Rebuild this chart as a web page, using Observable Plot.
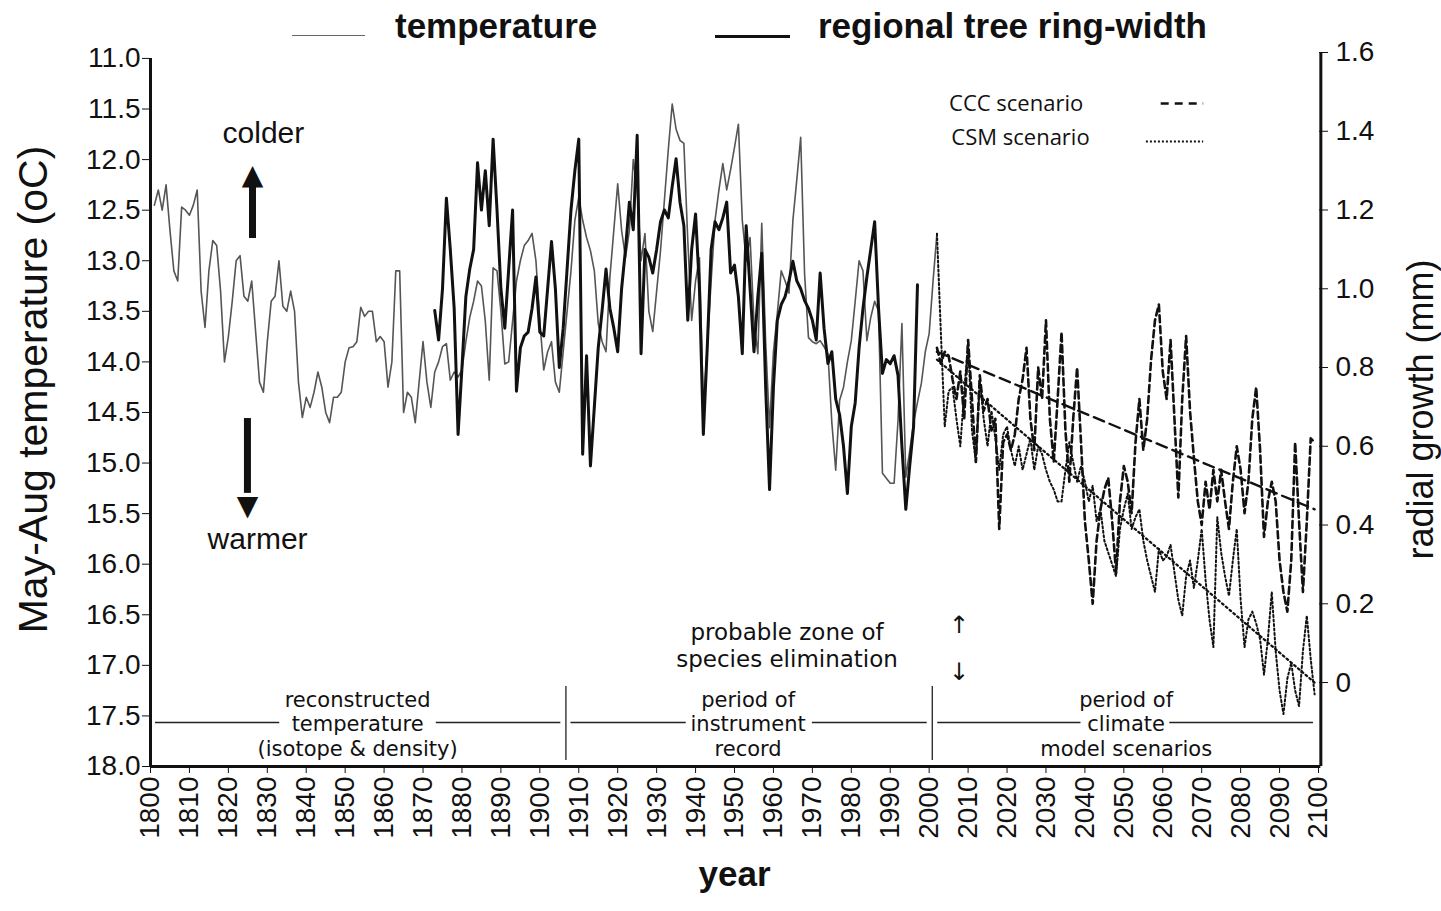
<!DOCTYPE html>
<html><head><meta charset="utf-8">
<script src="https://cdn.jsdelivr.net/npm/d3@7"></script>
<script src="https://cdn.jsdelivr.net/npm/@observablehq/plot@0.6"></script>
<style>
body{margin:0;background:#fff;font-family:"Liberation Sans",Arial,sans-serif;}
#legend{position:relative;height:40px;width:1441px;}
#legend .ln{position:absolute;}
#legend .tx{position:absolute;top:8px;font-weight:bold;font-size:35px;line-height:35px;color:#111;white-space:nowrap;}
#chart svg{display:block;}
</style></head><body>
<div id="legend">
 <div class="ln" style="left:292px;top:35px;width:73px;border-top:1.5px solid #666"></div>
 <div class="tx" style="left:395px">temperature</div>
 <div class="ln" style="left:715px;top:35px;width:75px;border-top:3px solid #111"></div>
 <div class="tx" style="left:818px">regional tree ring-width</div>
</div>
<div id="chart"></div>
<script>
// ---------- DATA ----------
// May-Aug temperature (oC), one value per year starting 1801
const tempStart = 1801;
const temperature = [
 12.45,12.3,12.5,12.25,12.7,13.1,13.2,12.47,12.5,12.55,
 12.45,12.3,13.3,13.66,13.1,12.8,12.85,13.3,14.0,13.75,
 13.4,13.0,12.95,13.35,13.4,13.2,13.7,14.2,14.3,13.8,
 13.4,13.35,13.0,13.45,13.5,13.3,13.5,14.2,14.55,14.35,
 14.45,14.3,14.1,14.25,14.5,14.6,14.35,14.35,14.3,14.0,
 13.86,13.85,13.8,13.46,13.55,13.5,13.5,13.8,13.75,13.8,
 14.25,14.0,13.1,13.1,14.5,14.3,14.35,14.6,14.2,13.8,
 14.2,14.45,14.1,14.0,13.85,13.82,14.18,14.1,14.15,14.08,
 13.8,13.56,13.4,13.2,13.25,13.6,14.18,13.07,13.1,13.5,
 14.02,14.0,13.6,13.2,13.0,12.85,12.8,12.73,13.0,13.6,
 14.08,13.9,13.8,14.2,14.3,13.9,13.5,13.1,12.6,12.37,
 12.6,12.77,12.9,13.1,13.62,13.8,13.9,13.16,12.7,12.24,
 12.7,12.97,12.7,12.0,12.3,13.0,12.73,13.5,13.7,13.3,
 12.9,12.4,11.9,11.45,11.7,11.81,11.84,12.8,13.59,13.2,
 12.97,14.45,13.86,13.2,12.6,12.3,12.04,12.3,12.1,11.88,
 11.65,12.6,13.0,12.77,13.6,13.92,12.63,13.8,14.65,13.9,
 13.52,13.1,13.2,13.32,12.6,12.2,11.78,13.13,13.76,13.8,
 13.82,13.79,13.85,13.92,14.6,15.07,14.38,14.25,14.0,13.79,
 13.4,13.0,13.1,13.79,13.56,13.4,13.5,15.1,15.15,15.2,
 15.2,14.58,13.62,15.14,14.88,14.6,14.4,14.21,13.9,13.72,
 13.2,12.73
];
// regional tree ring-width (mm), one value per year starting 1873
const ringStart = 1873;
const ringWidth = [
 0.945,0.87,1.0,1.23,1.1,0.95,0.63,0.8,
 0.98,1.05,1.1,1.32,1.2,1.3,1.16,1.38,1.2,1.0,
 0.9,1.05,1.2,0.74,0.85,0.88,0.89,0.95,1.03,0.89,
 0.88,1.0,1.12,1.0,0.8,0.9,1.05,1.2,1.3,1.38,
 0.58,0.83,0.55,0.7,0.85,0.945,1.05,0.95,0.9,0.84,
 1.0,1.1,1.22,1.15,1.39,0.835,1.1,1.08,1.04,1.1,
 1.17,1.2,1.18,1.26,1.33,1.22,1.16,0.92,1.1,1.19,
 1.0,0.63,0.85,1.1,1.17,1.15,1.18,1.22,1.04,1.06,
 0.98,0.835,1.16,1.0,0.84,0.98,1.09,0.75,0.49,0.75,
 0.92,0.96,0.98,1.02,1.07,1.02,1.0,0.97,0.95,0.92,
 0.87,1.04,0.9,0.81,0.84,0.72,0.68,0.6,0.48,0.65,
 0.71,0.85,0.95,1.03,1.1,1.17,0.95,0.785,0.82,0.81,
 0.83,0.78,0.6,0.44,0.55,0.65,1.01
];
// scenario radial growth (mm), one value per year starting 2002
const scenStart = 2002;
const cccScenario = [
 0.85,0.81,0.84,0.83,0.77,0.72,0.79,0.67,0.87,
 0.72,0.56,0.78,0.69,0.72,0.64,0.67,0.39,0.61,0.63,
 0.59,0.63,0.72,0.77,0.85,0.67,0.59,0.80,0.72,0.92,
 0.67,0.56,0.72,0.89,0.64,0.51,0.67,0.80,0.61,0.41,
 0.31,0.20,0.36,0.44,0.49,0.52,0.41,0.28,0.46,0.55,
 0.51,0.43,0.61,0.72,0.59,0.67,0.82,0.92,0.96,0.79,
 0.72,0.87,0.67,0.47,0.72,0.88,0.69,0.57,0.46,0.40,
 0.51,0.44,0.54,0.46,0.54,0.46,0.39,0.51,0.60,0.54,
 0.43,0.51,0.67,0.75,0.59,0.37,0.46,0.51,0.46,0.31,
 0.23,0.18,0.31,0.61,0.41,0.23,0.41,0.62,0.61
];
const csmScenario = [
 1.14,0.89,0.65,0.74,0.75,0.67,0.60,0.74,0.86,
 0.64,0.56,0.77,0.67,0.60,0.69,0.62,0.54,0.63,0.65,
 0.59,0.55,0.60,0.54,0.58,0.62,0.54,0.60,0.58,0.54,
 0.51,0.49,0.46,0.46,0.54,0.61,0.56,0.51,0.55,0.51,
 0.46,0.50,0.41,0.44,0.36,0.33,0.30,0.27,0.39,0.44,
 0.48,0.39,0.42,0.44,0.36,0.31,0.27,0.23,0.34,0.31,
 0.32,0.35,0.28,0.21,0.17,0.27,0.31,0.24,0.31,0.39,
 0.26,0.16,0.09,0.42,0.33,0.27,0.22,0.31,0.39,0.21,
 0.09,0.16,0.18,0.15,0.11,0.02,0.11,0.23,0.08,-0.02,
 -0.08,0.01,0.05,-0.02,-0.06,0.08,0.17,0.06,-0.03
];
// linear trends of the scenarios (start / end)
const trendYears = [2002, 2099];
const cccTrend = [0.84, 0.44];
const csmTrend = [0.82, 0.0];
// ticks
const tempTicks = [11.0,11.5,12.0,12.5,13.0,13.5,14.0,14.5,15.0,15.5,16.0,16.5,17.0,17.5,18.0];
const ringTicks = [0,0.2,0.4,0.6,0.8,1.0,1.2,1.4,1.6];
const yearTicks = [1800,1810,1820,1830,1840,1850,1860,1870,1880,1890,1900,1910,1920,1930,1940,1950,1960,1970,1980,1990,2000,2010,2020,2030,2040,2050,2060,2070,2080,2090,2100];
const periodLabels = [
 {x: 1853.2, text: "reconstructed\ntemperature\n(isotope & density)"},
 {x: 1953.5, text: "period of\ninstrument\nrecord"},
 {x: 2050.6, text: "period of\nclimate\nmodel scenarios"}
];
// period arrow line pieces (years), broken around the middle words
const periodRules = [
 {x1: 1801.3, x2: 1833.2}, {x1: 1873.4, x2: 1905.4},
 {x1: 1908.0, x2: 1937.6}, {x1: 1970.0, x2: 1999.5},
 {x1: 2002.2, x2: 2039.0}, {x1: 2061.8, x2: 2098.7}
];
const periodBounds = [1906.7, 2000.8];

// ---------- secondary axis mapping (radial growth -> temperature axis) ----------
const ringToTemp = r => 17.17 - 3.893 * r;
const tempToRing = t => (17.17 - t) / 3.893;

const tempData = temperature.map((v, i) => ({year: tempStart + i, y: v}));
const ringData = ringWidth.map((v, i) => ({year: ringStart + i, y: ringToTemp(v)}));
const cccData = cccScenario.map((v, i) => ({year: scenStart + i, y: ringToTemp(v)}));
const csmData = csmScenario.map((v, i) => ({year: scenStart + i, y: ringToTemp(v)}));
const cccTrendData = trendYears.map((yr, i) => ({year: yr, y: ringToTemp(cccTrend[i])}));
const csmTrendData = trendYears.map((yr, i) => ({year: yr, y: ringToTemp(csmTrend[i])}));

const SANS = "Liberation Sans, Arial, sans-serif";
const HUM = "Open Sans, Lato, sans-serif";
const WIDE = "DejaVu Sans, sans-serif";

const plot = Plot.plot({
  width: 1441, height: 871,
  marginLeft: 150, marginRight: 123, marginTop: 12, marginBottom: 145,
  x: {domain: [1800, 2100]},
  y: {domain: [18, ringToTemp(1.6)]},
  style: {fontFamily: SANS, fontSize: "28px", background: "transparent", overflow: "visible", color: "#111"},
  marks: [
    // axis lines
    Plot.ruleX([1800], {y1: 11, y2: 18, strokeWidth: 3, stroke: "#111"}),
    Plot.ruleX([2100.6], {y1: ringToTemp(1.6), y2: 18, strokeWidth: 3, stroke: "#111"}),
    Plot.ruleY([18], {x1: 1800, x2: 2100.6, strokeWidth: 3, stroke: "#111"}),
    Plot.axisY({ticks: tempTicks, tickFormat: d => d.toFixed(1), tickSize: 8, tickPadding: 2, label: null, fontSize: 28}),
    Plot.axisY({ticks: ringTicks.map(ringToTemp), anchor: "right", tickSize: 9, tickPadding: 8, label: null, fontSize: 28,
      tickFormat: d => { const r = Math.round(tempToRing(d) * 10) / 10; return r === 0 ? "0" : r.toFixed(1); }}),
    Plot.axisX({ticks: yearTicks, tickFormat: d => String(d), tickRotate: -90, tickSize: 7, tickPadding: 3, label: null, fontSize: 28}),
    // axis titles
    Plot.text(["May-Aug temperature (oC)"], {frameAnchor: "left", textAnchor: "middle", dx: -117, dy: -20, rotate: -90, fontSize: 41, fontFamily: SANS}),
    Plot.text(["radial growth (mm)"], {frameAnchor: "right", textAnchor: "middle", dx: 103, dy: 0, rotate: -90, fontSize: 36, fontFamily: SANS}),
    Plot.text(["year"], {frameAnchor: "bottom", dy: 119, fontSize: 35, fontWeight: "bold", fontFamily: SANS}),
    // period annotations
    Plot.ruleY(periodRules, {x1: "x1", x2: "x2", y: () => 17.565, strokeWidth: 1.3, stroke: "#222"}),
    Plot.ruleX(periodBounds, {y1: 17.21, y2: 17.94, strokeWidth: 1.3, stroke: "#222"}),
    Plot.text(periodLabels, {x: "x", y: () => 17.575, text: "text", lineHeight: 1.167, fontSize: 21, fontFamily: WIDE, fill: "#111"}),
    // data lines
    Plot.line(tempData, {x: "year", y: "y", stroke: "#555", strokeWidth: 1.6}),
    Plot.line(ringData, {x: "year", y: "y", stroke: "#111", strokeWidth: 3}),
    Plot.line(cccData, {x: "year", y: "y", stroke: "#111", strokeWidth: 2.6, strokeDasharray: "7,4"}),
    Plot.line(csmData, {x: "year", y: "y", stroke: "#111", strokeWidth: 2, strokeDasharray: "2,2.5"}),
    Plot.line(cccTrendData, {x: "year", y: "y", stroke: "#111", strokeWidth: 2.4, strokeDasharray: "11,6"}),
    Plot.line(csmTrendData, {x: "year", y: "y", stroke: "#111", strokeWidth: 2.2, strokeDasharray: "2,3"}),
    // scenario legend
    Plot.text(["CCC scenario"], {x: 2005.1, y: 11.445, textAnchor: "start", fontSize: 22, fontFamily: HUM}),
    Plot.text(["CSM scenario"], {x: 2005.7, y: 11.79, textAnchor: "start", fontSize: 22, fontFamily: HUM}),
    Plot.ruleY([11.445], {x1: 2059.6, x2: 2070.5, strokeWidth: 2.6, stroke: "#111", strokeDasharray: "8,6"}),
    Plot.ruleY([11.82], {x1: 2055.8, x2: 2070.5, strokeWidth: 2, stroke: "#111", strokeDasharray: "2,2"}),
    // colder / warmer arrows
    Plot.text(["colder"], {x: 1829, y: 11.74, fontSize: 30, fontFamily: SANS}),
    Plot.ruleX([1826.2], {y1: 12.25, y2: 12.78, strokeWidth: 7, stroke: "#111"}),
    Plot.text(["▲"], {x: 1826.2, y: 12.15, fontSize: 28, fontFamily: "DejaVu Sans", fill: "#111"}),
    Plot.ruleX([1824.9], {y1: 14.56, y2: 15.3, strokeWidth: 7, stroke: "#111"}),
    Plot.text(["▼"], {x: 1824.9, y: 15.42, fontSize: 28, fontFamily: "DejaVu Sans", fill: "#111"}),
    Plot.text(["warmer"], {x: 1827.5, y: 15.75, fontSize: 30, fontFamily: SANS}),
    // species elimination zone
    Plot.text(["probable zone of\nspecies elimination"], {x: 1963.5, y: 16.8, lineHeight: 1.165, fontSize: 23, fontFamily: WIDE}),
    Plot.text(["↑"], {x: 2007.7, y: 16.6, fontSize: 24, fontFamily: "DejaVu Sans", fill: "#111"}),
    Plot.text(["↓"], {x: 2007.7, y: 17.07, fontSize: 24, fontFamily: "DejaVu Sans", fill: "#111"})
  ]
});
document.getElementById("chart").appendChild(plot);
</script>
</body></html>
